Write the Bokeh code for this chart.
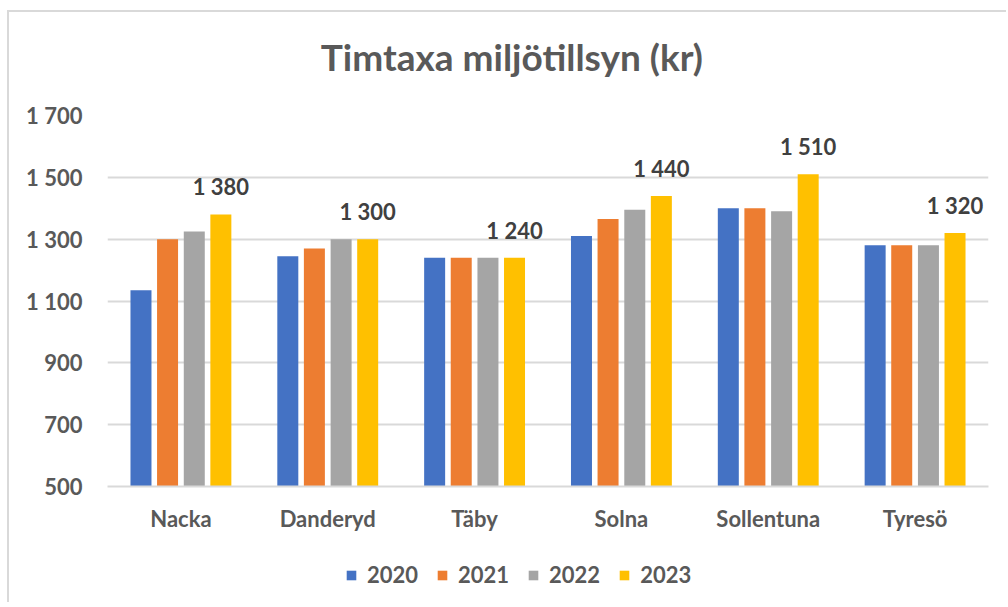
from bokeh.plotting import figure
from bokeh.layouts import column
from bokeh.models import (ColumnDataSource, FactorRange, Range1d, FixedTicker,
                          Legend, LegendItem, Label)
from bokeh.transform import dodge
from bokeh.core.properties import value
from bokeh.embed import file_html
from bokeh.resources import INLINE

# ---- data ----
kommuner = ["Nacka", "Danderyd", "Täby", "Solna", "Sollentuna", "Tyresö"]
years = ["2020", "2021", "2022", "2023"]
v2020 = [1135, 1245, 1240, 1310, 1400, 1280]
v2021 = [1300, 1270, 1240, 1365, 1400, 1280]
v2022 = [1325, 1300, 1240, 1395, 1390, 1280]
v2023 = [1380, 1300, 1240, 1440, 1510, 1320]
y_ticks = [500, 700, 900, 1100, 1300, 1500, 1700]
title_text = "Timtaxa miljötillsyn (kr)"

colors = ["#4472C4", "#ED7D31", "#A5A5A5", "#FFC000"]
offsets = [-0.272, -0.091, 0.091, 0.272]
FONT = "Lato"
TXT = "#595959"
FS = "22px"

def fmt(v):
    return f"{v:,}".replace(",", " ")

def blank_fig(h, yr):
    f = figure(width=997, height=h, x_range=Range1d(0, 1), y_range=yr,
               output_backend="svg", toolbar_location=None,
               x_axis_location=None, y_axis_location=None,
               min_border=0, min_border_left=0, min_border_right=0,
               min_border_top=0, min_border_bottom=0)
    f.outline_line_color = None
    f.xgrid.grid_line_color = None
    f.ygrid.grid_line_color = None
    return f

source = ColumnDataSource(dict(
    cat=kommuner, v2020=v2020, v2021=v2021, v2022=v2022, v2023=v2023,
    lbl=[fmt(v) for v in v2023],
))

# ---- title strip ----
tf = blank_fig(75, Range1d(0, 1))
tf.add_layout(Label(x=0.459, y=0.416, text=title_text, text_align="center",
                    text_baseline="middle", text_font=FONT, text_font_size="37px",
                    text_font_style="bold", text_color=TXT))

# ---- main chart ----
p = figure(width=997, height=453, x_range=FactorRange(*kommuner),
           y_range=Range1d(500, 1700), output_backend="svg",
           toolbar_location=None, min_border_left=98, min_border_right=18,
           min_border_top=28, min_border_bottom=54)
p.x_range.range_padding = 0
p.outline_line_color = None
p.background_fill_color = "white"
p.border_fill_color = "white"

renderers = []
for yr, col, off in zip(years, colors, offsets):
    r = p.vbar(x=dodge("cat", off, range=p.x_range), top="v" + yr, bottom=500,
               width=0.143, source=source, fill_color=col, line_color=None)
    renderers.append(r)

p.text(x=dodge("cat", offsets[3], range=p.x_range), y="v2023", text="lbl",
       source=source, text_align="center", text_baseline="bottom", y_offset=-14,
       text_font=value(FONT), text_font_size=FS, text_font_style="bold",
       text_color="#404040")

p.yaxis.ticker = FixedTicker(ticks=y_ticks)
p.yaxis.major_label_overrides = {t: fmt(t) for t in y_ticks}
p.yaxis.axis_line_color = None
p.yaxis.major_tick_line_color = None
p.yaxis.minor_tick_line_color = None
p.yaxis.major_label_standoff = 19
p.yaxis.major_label_text_font = FONT
p.yaxis.major_label_text_font_size = FS
p.yaxis.major_label_text_font_style = "bold"
p.yaxis.major_label_text_color = TXT

p.xaxis.axis_line_color = "#d9d9d9"
p.xaxis.axis_line_width = 2
p.xaxis.major_tick_line_color = None
p.xaxis.minor_tick_line_color = None
p.xaxis.major_label_standoff = 12
p.xaxis.major_label_text_font = FONT
p.xaxis.major_label_text_font_size = FS
p.xaxis.major_label_text_font_style = "bold"
p.xaxis.major_label_text_color = TXT

p.xgrid.grid_line_color = None
p.ygrid.grid_line_color = "#d9d9d9"
p.ygrid.grid_line_width = 2

# ---- legend strip ----
lf = blank_fig(62, Range1d(0, 1))
dummy = []
for yr, col in zip(years, colors):
    dummy.append(lf.vbar(x=[-10], top=[-10], bottom=[-11], width=0.1,
                         fill_color=col, line_color=None))
legend = Legend(items=[LegendItem(label=yr, renderers=[r]) for yr, r in zip(years, dummy)],
                orientation="horizontal", location=(238, 14),
                glyph_width=12, glyph_height=12, label_standoff=10, spacing=18,
                padding=0, margin=0, border_line_color=None, background_fill_alpha=0,
                label_text_font=FONT, label_text_font_size=FS,
                label_text_font_style="bold", label_text_color=TXT)
lf.add_layout(legend, "center")

layout = column(tf, p, lf, spacing=0)
layout.styles = {"margin-left": "7px", "margin-top": "10px",
                 "border-left": "2px solid #d9d9d9", "border-top": "2px solid #d9d9d9"}

open("out.html", "w").write(file_html(layout, INLINE))
